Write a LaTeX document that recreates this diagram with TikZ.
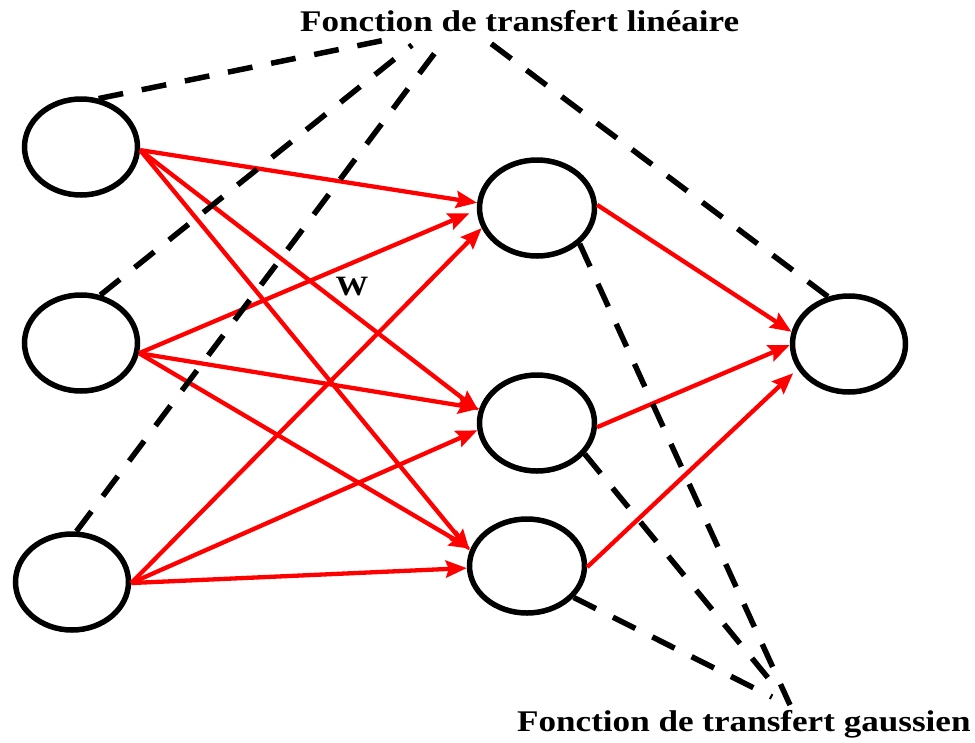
\documentclass[tikz,border=0pt]{standalone}
\usepackage{fontspec}
\usepackage{graphicx}
\setmainfont{Liberation Serif}
\usetikzlibrary{shapes.geometric,arrows.meta}
\begin{document}
\begin{tikzpicture}[x=1pt,y=-1pt,
  neuron/.style={ellipse,draw=black,line width=5.5pt,minimum width=113pt,minimum height=96pt,inner sep=0pt},
  wire/.style={draw=red,line width=4.3pt,-{Stealth[length=21pt,width=17pt,inset=3pt]}},
  link/.style={draw=black,line width=5.5pt,dash pattern=on 25pt off 19pt},
  caption/.style={font=\fontsize{30}{36}\selectfont\bfseries,inner sep=0pt,anchor=base west}]
\useasboundingbox (0,0) rectangle (975,742);

% neurons: input, hidden and output layers
\node[neuron] (I1) at (81,147) {};
\node[neuron] (I2) at (81,343) {};
\node[neuron] (I3) at (72,582) {};
\node[neuron,minimum width=115pt] (H1) at (537,208) {};
\node[neuron,minimum width=115pt] (H2) at (537,423) {};
\node[neuron,minimum width=115pt,minimum height=94pt] (H3) at (527,566) {};
\node[neuron] (O) at (849,344) {};

% weighted connections
\draw[wire] (I1.-3) -- (H1.175);
\draw[wire] (I1.-3) -- (H2.168);
\draw[wire] (I1.-3) -- (H3.165);
\draw[wire,shorten >=8pt] (I2.-10) -- (H1.182);
\draw[wire] (I2.-10) -- (H2.166);
\draw[wire] (I2.-10) -- (H3.163);
\draw[wire] (I3.-1) -- (H1.200);
\draw[wire] (I3.-1) -- (H2.187);
\draw[wire] (I3.-1) -- (H3.182);
\draw[wire] (H1.3) -- (O.168);
\draw[wire] (H2.-4) -- (O.181);
\draw[wire,shorten >=6pt] (H3.-1) -- (O.206);

\node[font=\fontsize{28}{32}\selectfont\bfseries,inner sep=0pt] (w) at (352,287) {\scalebox{1.17}[1]{W}};

% captions and the dashed pointers to them
\node[caption] (lin) at (300,31) {\scalebox{1.17}[1]{Fonction de transfert linéaire}};
\node[caption] (gau) at (517,731) {\scalebox{1.17}[1]{Fonction de transfert gaussien}};

\coordinate (t1) at (400,37);
\coordinate (t2) at (412,45);
\coordinate (t3) at (440,46);
\coordinate (t4) at (481,36);
\coordinate (b1) at (790,705);
\coordinate (b2) at (778,690);
\coordinate (b3) at (772,697);

\draw[link] (I1.70) -- (t1);
\draw[link] (I2.68) -- (t2);
\draw[link] (I3.85) -- (t3);
\draw[link] (O.114) -- (t4);
\draw[link] (H1.-40) -- (b1);
\draw[link] (H2.-33) -- (b2);
\draw[link] (H3.-34) -- (b3);
\end{tikzpicture}
\end{document}
